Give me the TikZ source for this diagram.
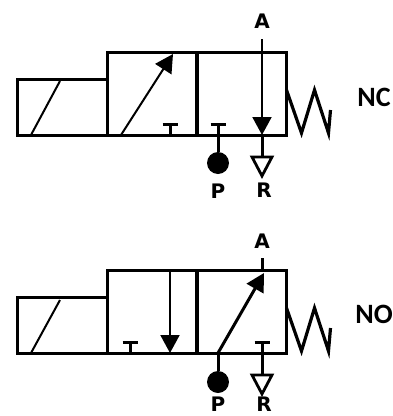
\documentclass[tikz,border=0pt]{standalone}
\usepackage{fontspec}
\setmainfont{DejaVu Sans}
\newfontfamily\statefont{Carlito}
\usetikzlibrary{shapes.geometric, arrows.meta, positioning}
\tikzset{
    cell/.style={rectangle, draw=black, line width=3pt, minimum height=83pt, minimum width=90pt, inner sep=0pt, outer sep=0pt},
    coil/.style={rectangle, draw=black, line width=3pt, minimum height=56pt, minimum width=90pt, inner sep=0pt, outer sep=0pt},
    supply/.style={circle, fill=black, minimum size=22pt, inner sep=0pt, outer sep=0pt},
    exhaust/.style={isosceles triangle, isosceles triangle stretches=true, shape border rotate=-90, draw=black, line width=2.8pt, minimum width=20pt, minimum height=19pt, inner sep=0pt, outer sep=0pt},
    portlabel/.style={font=\bfseries\fontsize{20pt}{20pt}\selectfont, inner sep=0pt},
    statelabel/.style={font=\statefont\bfseries\fontsize{28pt}{28pt}\selectfont, inner sep=0pt},
    thin line/.style={line width=2pt},
    flow/.style={line width=2pt, -{Triangle[length=18pt,width=19pt]}},
    blocked/.style={line width=3pt, -{Bar[width=15pt,line width=2.8pt]}},
    spring/.style={line width=3.2pt, line join=miter}
}
\begin{document}
\begin{tikzpicture}[x=1pt, y=-1pt]
    \useasboundingbox (0,0) rectangle (392,416);
    % NC valve
    \node (coil_nc) [coil] at (62,107) {};
    \node (left_nc) [cell] at (152,93.5) {};
    \node (right_nc) [cell] at (241.5,93.5) {};
    \node (p_nc) [supply] at (218,163) {};
    \node (r_nc) [exhaust] at (262,163) {};
    \node (a_lbl_nc) [portlabel] at (262,21) {A};
    \node (p_lbl_nc) [portlabel] at (218,191) {P};
    \node (r_lbl_nc) [portlabel] at (264,190) {R};
    \node (state_nc) [statelabel] at (374,97) {NC};
    \coordinate (a_top_nc) at (262,39);
    \coordinate (a_end_nc) at (262,135);
    \coordinate (slash_a_nc) at (31,135);
    \coordinate (slash_b_nc) at (60,81);
    \coordinate (cross_a_nc) at (121,135);
    \coordinate (cross_b_nc) at (173,54);
    \coordinate (stop_a_nc) at (170,135);
    \coordinate (stop_b_nc) at (170,123);
    \coordinate (stop_c_nc) at (218,123);
    % NO valve
    \node (coil_no) [coil] at (62,325.5) {};
    \node (left_no) [cell] at (152,312) {};
    \node (right_no) [cell] at (241.5,312) {};
    \node (p_no) [supply] at (218,382) {};
    \node (r_no) [exhaust] at (262,381) {};
    \node (a_lbl_no) [portlabel] at (262,241) {A};
    \node (p_lbl_no) [portlabel] at (218,404) {P};
    \node (r_lbl_no) [portlabel] at (264,404) {R};
    \node (state_no) [statelabel] at (374,314) {NO};
    \coordinate (a_top_no) at (262,258);
    \coordinate (a_end_no) at (262,271);
    \coordinate (slash_a_no) at (31,353);
    \coordinate (slash_b_no) at (60,300);
    \coordinate (cross_a_no) at (218,353);
    \coordinate (cross_b_no) at (264,273);
    \coordinate (down_a_no) at (170,271);
    \coordinate (down_b_no) at (170,353);
    \coordinate (stop_a_no) at (130,353);
    \coordinate (stop_b_no) at (130,341);
    \coordinate (stop_c_no) at (262,341);
    % Arrows
    \draw [thin line] (slash_a_nc) -- (slash_b_nc);
    \draw [flow] (cross_a_nc) -- (cross_b_nc);
    \draw [blocked] (stop_a_nc) -- (stop_b_nc);
    \draw [blocked] (p_nc) -- (stop_c_nc);
    \draw [flow] (a_top_nc) -- (a_end_nc);
    \draw [line width=3pt] (a_end_nc) -- (r_nc.lower side);
    \draw [spring] (right_nc.east |- 0,90) -- ++(15,43) -- ++(13,-43) -- ++(14,43) -- ++(2,-23);
    \draw [thin line] (slash_a_no) -- (slash_b_no);
    \draw [line width=3pt, -{Triangle[length=18pt,width=19pt]}] (cross_a_no) -- (cross_b_no);
    \draw [flow] (down_a_no) -- (down_b_no);
    \draw [blocked] (stop_a_no) -- (stop_b_no);
    \draw [blocked] (r_no.lower side) -- (stop_c_no);
    \draw [line width=3pt] (p_no) -- (cross_a_no);
    \draw [line width=3pt] (a_top_no) -- (a_end_no);
    \draw [spring] (right_no.east |- 0,308) -- ++(15,43) -- ++(13,-43) -- ++(14,43) -- ++(2,-23);
\end{tikzpicture}
\end{document}
